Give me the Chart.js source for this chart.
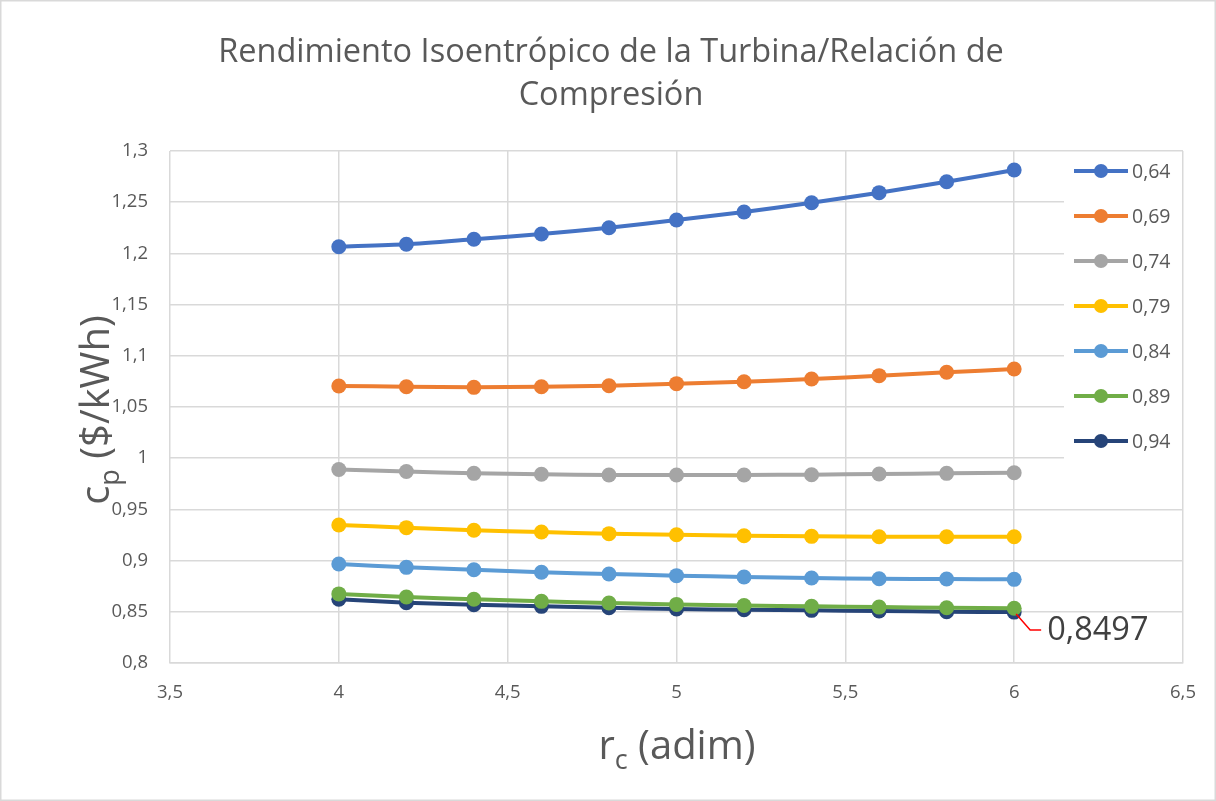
<!DOCTYPE html>
<html>
<head>
<meta charset="utf-8">
<script src="https://cdn.jsdelivr.net/npm/chart.js@4.4.0/dist/chart.umd.min.js"></script>
<style>
  html,body{margin:0;padding:0;background:#fff;}
  #wrap{position:relative;width:1216px;height:801px;}
</style>
</head>
<body>
<div id="wrap"><canvas id="c" width="1216" height="801"></canvas></div>
<script>
// relación de compresión (eje x)
const rc = [4, 4.2, 4.4, 4.6, 4.8, 5, 5.2, 5.4, 5.6, 5.8, 6];

// coste cp ($/kWh) para cada rendimiento isoentrópico de turbina
const eta = ['0,64', '0,69', '0,74', '0,79', '0,84', '0,89', '0,94'];
const cp064 = [1.2065, 1.2089, 1.2138, 1.2189, 1.2251, 1.2326, 1.2404, 1.2495, 1.2593, 1.2700, 1.2814];
const cp069 = [1.0705, 1.0698, 1.0692, 1.0698, 1.0708, 1.0728, 1.0747, 1.0773, 1.0806, 1.0839, 1.0871];
const cp074 = [0.9890, 0.9870, 0.9852, 0.9843, 0.9836, 0.9836, 0.9836, 0.9839, 0.9846, 0.9852, 0.9858];
const cp079 = [0.9348, 0.9322, 0.9296, 0.9279, 0.9263, 0.9253, 0.9243, 0.9237, 0.9233, 0.9233, 0.9233];
const cp084 = [0.8967, 0.8934, 0.8911, 0.8886, 0.8869, 0.8853, 0.8840, 0.8830, 0.8823, 0.8820, 0.8817];
const cp089 = [0.8675, 0.8645, 0.8622, 0.8602, 0.8586, 0.8572, 0.8562, 0.8553, 0.8546, 0.8540, 0.8535];
const cp094 = [0.8622, 0.8589, 0.8569, 0.8553, 0.8540, 0.8527, 0.8520, 0.8514, 0.8508, 0.8501, 0.8497];

const xTicks = [3.5, 4, 4.5, 5, 5.5, 6, 6.5];
const yTicks = [0.8, 0.85, 0.9, 0.95, 1, 1.05, 1.1, 1.15, 1.2, 1.25, 1.3];

const colors = ['#4472c4', '#ed7d31', '#a5a5a5', '#ffc000', '#5b9bd5', '#70ad47', '#264478'];
const series = [cp064, cp069, cp074, cp079, cp084, cp089, cp094];

const FONT = '"Open Sans", "Noto Sans", sans-serif';
const GREY = '#595959';
const GRID = '#d9d9d9';

const fmt = v => String(+v.toFixed(4)).replace('.', ',');

const datasets = series.map((s, i) => ({
  label: eta[i],
  data: s.map((y, k) => ({ x: rc[k], y })),
  borderColor: colors[i],
  backgroundColor: colors[i],
  borderWidth: 4,
  pointRadius: 7.5,
  pointHoverRadius: 7.5,
  pointBorderWidth: 0,
  tension: 0.25,
  order: i
}));

// texto, leyenda, títulos con subíndice y etiqueta de dato
const decor = {
  id: 'decor',
  afterDraw(chart) {
    const ctx = chart.ctx;
    const { right, top } = chart.chartArea;
    ctx.save();

    // borde exterior
    ctx.strokeStyle = GRID;
    ctx.lineWidth = 1.5;
    ctx.strokeRect(0.75, 0.75, chart.width - 1.5, chart.height - 1.5);

    // título
    ctx.fillStyle = GREY;
    ctx.font = '32.5px ' + FONT;
    ctx.textAlign = 'center';
    ctx.textBaseline = 'middle';
    ctx.fillText('Rendimiento Isoentrópico de la Turbina/Relación de', 611, 53);
    ctx.fillText('Compresión', 611, 96);

    // título eje x: r_c (adim)
    drawSub(ctx, 'r', 'c', ' (adim)', 677, 745);

    // título eje y: c_p ($/kWh)
    ctx.save();
    ctx.translate(95, 410);
    ctx.rotate(-Math.PI / 2);
    drawSub(ctx, 'c', 'p', ' ($/kWh)', 0, 0);
    ctx.restore();

    // leyenda
    ctx.fillStyle = '#fff';
    ctx.fillRect(1064, top + 1, right - 1064 - 1, 318);
    ctx.font = '19.5px ' + FONT;
    ctx.textAlign = 'left';
    ctx.textBaseline = 'middle';
    eta.forEach((lab, i) => {
      const y = 171 + i * 45;
      ctx.strokeStyle = colors[i];
      ctx.lineWidth = 4;
      ctx.beginPath();
      ctx.moveTo(1074, y);
      ctx.lineTo(1128, y);
      ctx.stroke();
      ctx.fillStyle = colors[i];
      ctx.beginPath();
      ctx.arc(1101, y, 7, 0, Math.PI * 2);
      ctx.fill();
      ctx.fillStyle = GREY;
      ctx.fillText(lab, 1132, y + 1);
    });

    // etiqueta del último punto de 0,94
    const xs = chart.scales.x, ys = chart.scales.y;
    const last = cp094[cp094.length - 1];
    const px = xs.getPixelForValue(rc[rc.length - 1]);
    const py = ys.getPixelForValue(last);
    ctx.strokeStyle = '#ff0000';
    ctx.lineWidth = 1.5;
    ctx.beginPath();
    ctx.moveTo(px + 2, py + 2);
    ctx.lineTo(px + 16, py + 18);
    ctx.lineTo(px + 27, py + 18);
    ctx.stroke();
    ctx.fillStyle = '#404040';
    ctx.font = '32.5px ' + FONT;
    ctx.textAlign = 'left';
    ctx.fillText(fmt(last), px + 33, py + 19);

    ctx.restore();
  }
};

function drawSub(ctx, base, sub, rest, cx, cy) {
  const big = '40px ' + FONT, small = '27px ' + FONT;
  ctx.font = big;
  const wb = ctx.measureText(base).width;
  const wr = ctx.measureText(rest).width;
  ctx.font = small;
  const ws = ctx.measureText(sub).width;
  let x = cx - (wb + ws + wr) / 2;
  ctx.fillStyle = GREY;
  ctx.textAlign = 'left';
  ctx.textBaseline = 'alphabetic';
  ctx.font = big;
  ctx.fillText(base, x, cy + 14);
  x += wb;
  ctx.font = small;
  ctx.fillText(sub, x, cy + 24);
  x += ws;
  ctx.font = big;
  ctx.fillText(rest, x, cy + 14);
}

new Chart(document.getElementById('c'), {
  type: 'line',
  data: { datasets },
  options: {
    responsive: false,
    animation: false,
    events: [],
    layout: { padding: { left: 0, top: 151, right: 33, bottom: 0 } },
    plugins: { legend: { display: false }, title: { display: false }, tooltip: { enabled: false } },
    scales: {
      x: {
        type: 'linear', min: 3.5, max: 6.5,
        afterBuildTicks: s => { s.ticks = xTicks.map(v => ({ value: v })); },
        afterFit: s => { s.height = 138; },
        grid: { color: GRID, lineWidth: 1.5, drawTicks: false },
        border: { color: GRID, width: 1.5 },
        ticks: { color: GREY, font: { family: FONT, size: 18.5 }, padding: 19, callback: v => fmt(v) }
      },
      y: {
        type: 'linear', min: 0.8, max: 1.3,
        afterBuildTicks: s => { s.ticks = yTicks.map(v => ({ value: v })); },
        afterFit: s => { s.width = 170; },
        grid: { color: GRID, lineWidth: 1.5, drawTicks: false },
        border: { display: false },
        ticks: { color: GREY, font: { family: FONT, size: 18.5 }, padding: 22, callback: v => fmt(v) }
      }
    }
  },
  plugins: [decor]
});
</script>
</body>
</html>
